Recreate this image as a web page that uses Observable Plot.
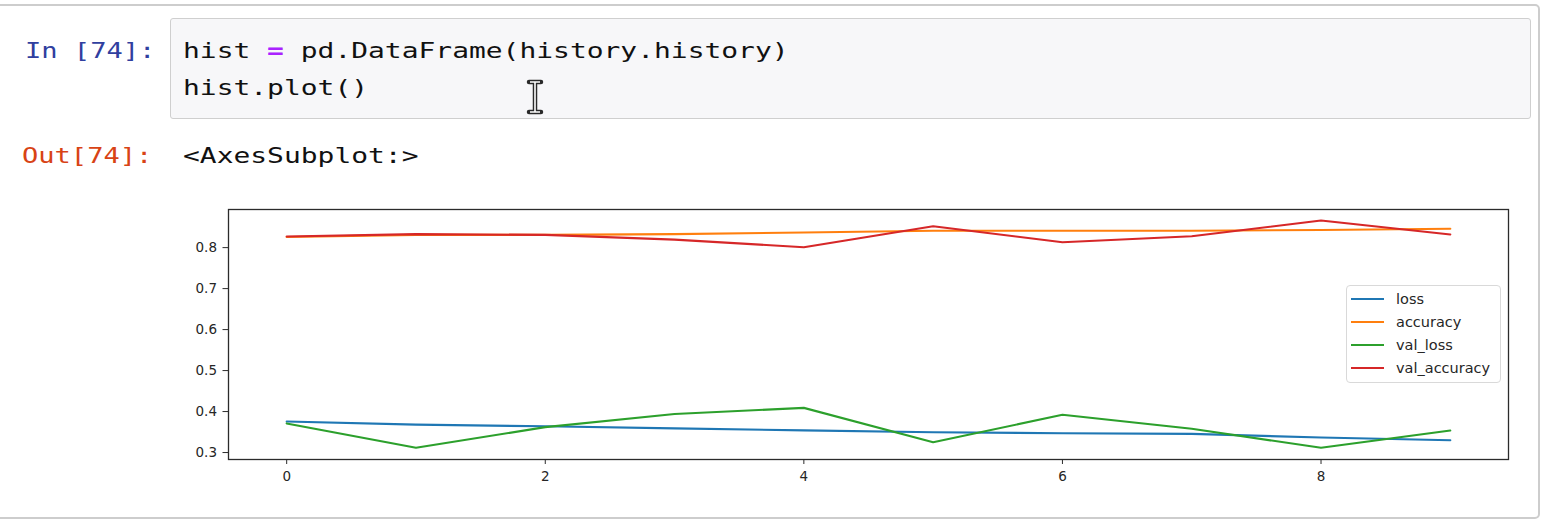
<!DOCTYPE html>
<html>
<head>
<meta charset="utf-8">
<script src="https://cdn.jsdelivr.net/npm/d3@7"></script>
<script src="https://cdn.jsdelivr.net/npm/@observablehq/plot@0.6"></script>
<style>
  html, body { margin: 0; padding: 0; background: #fff; }
  body { width: 1546px; height: 522px; position: relative; overflow: hidden; }
  .cell { position: absolute; left: -10px; top: 4px; width: 1550px; height: 515px;
          border: 2px solid #cdcdcd; border-radius: 5px; box-sizing: border-box; }
  .inbox { position: absolute; left: 170px; top: 18px; width: 1361px; height: 101px;
           background: #f7f7f9; border: 1px solid #cfcfcf; border-radius: 3px; box-sizing: border-box; }
  .mono { position: absolute; font-family: "DejaVu Sans Mono", monospace; font-size: 22px;
          line-height: 24px; white-space: pre; color: #111; }
  .code { transform: scaleX(1.27); transform-origin: 0 0; }
  .prompt { transform: scaleX(1.23); transform-origin: 0 0; }
  .pin { color: #303f9f; }
  .pout { color: #d84315; }
  .op { color: #aa22ff; font-weight: bold; }
  #chart { position: absolute; left: 170px; top: 195px; }
  #legend { position: absolute; left: 1346px; top: 285px; width: 155px; height: 98px;
            border: 1px solid #d9d9d9; border-radius: 4px; background: rgba(255,255,255,0.85);
            box-sizing: border-box; font-family: "DejaVu Sans", sans-serif; font-size: 14.5px; color: #262626; }
  .lrow { position: absolute; left: 4px; height: 20px; display: flex; align-items: center; }
  .lsw { width: 33px; height: 2px; margin-right: 12px; }
</style>
</head>
<body>
<div class="cell"></div>
<div class="inbox"></div>
<div class="mono prompt pin" style="left:25px; top:39px;">In [74]:</div>
<div class="mono code" style="left:183px; top:39px;">hist <span class="op">=</span> pd.DataFrame(history.history)</div>
<div class="mono code" style="left:183px; top:76px;">hist.plot()</div>
<div class="mono prompt pout" style="left:22px; top:144px;">Out[74]:</div>
<div class="mono code" style="left:183px; top:144px;">&lt;AxesSubplot:&gt;</div>
<svg style="position:absolute; left:526px; top:79px;" width="18" height="36">
  <path d="M3,3 H15 M9,3 V33 M3,33 H15" stroke="#2a2a2a" stroke-width="4.5" fill="none" stroke-linecap="round"/>
  <path d="M4,3 H14 M9,3 V33 M4,33 H14" stroke="#ffffff" stroke-width="1.6" fill="none"/>
</svg>
<div id="chart"></div>
<div id="legend"></div>
<script>
const epochs = [0, 1, 2, 3, 4, 5, 6, 7, 8, 9];
const seriesNames = ["loss", "accuracy", "val_loss", "val_accuracy"];
const seriesColors = ["#1f77b4", "#ff7f0e", "#2ca02c", "#d62728"];
const loss = [0.3756, 0.368, 0.364, 0.359, 0.354, 0.3495, 0.347, 0.3455, 0.3366, 0.330];
const accuracy = [0.826, 0.831, 0.831, 0.833, 0.837, 0.841, 0.841, 0.841, 0.843, 0.846];
const val_loss = [0.371, 0.3115, 0.362, 0.394, 0.409, 0.325, 0.392, 0.358, 0.3115, 0.3537];
const val_accuracy = [0.827, 0.833, 0.831, 0.8195, 0.801, 0.852, 0.813, 0.8276, 0.866, 0.832];
const xTicks = [0, 2, 4, 6, 8];
const yTicks = [0.3, 0.4, 0.5, 0.6, 0.7, 0.8];

const seriesValues = [loss, accuracy, val_loss, val_accuracy];
const rows = [];
seriesNames.forEach((name, s) => {
  epochs.forEach((e, i) => rows.push({epoch: e, value: seriesValues[s][i], series: name}));
});

const chart = Plot.plot({
  width: 1350,
  height: 290,
  marginLeft: 58,
  marginRight: 12,
  marginTop: 14,
  marginBottom: 26,
  style: {fontFamily: "DejaVu Sans, sans-serif", fontSize: "13.5px", color: "#262626", background: "transparent"},
  x: {domain: [-0.45, 9.45]},
  y: {domain: [0.283, 0.893]},
  color: {domain: seriesNames, range: seriesColors},
  marks: [
    Plot.line(rows, {x: "epoch", y: "value", stroke: "series", z: "series", strokeWidth: 2.1}),
    Plot.frame({stroke: "#2b2b2b", strokeWidth: 1.3}),
    Plot.axisX({ticks: xTicks, tickSize: 5, tickPadding: 7, tickFormat: d => String(d), label: null, stroke: "#2b2b2b"}),
    Plot.axisY({ticks: yTicks, tickSize: 5.5, tickPadding: 6, tickFormat: d => d.toFixed(1), label: null, stroke: "#2b2b2b"})
  ]
});
document.getElementById("chart").appendChild(chart);

const legend = document.getElementById("legend");
seriesNames.forEach((name, i) => {
  const row = document.createElement("div");
  row.className = "lrow";
  row.style.top = (3 + i * 23) + "px";
  const sw = document.createElement("div");
  sw.className = "lsw";
  sw.style.background = seriesColors[i];
  const tx = document.createElement("span");
  tx.textContent = name;
  row.appendChild(sw);
  row.appendChild(tx);
  legend.appendChild(row);
});
</script>
</body>
</html>
